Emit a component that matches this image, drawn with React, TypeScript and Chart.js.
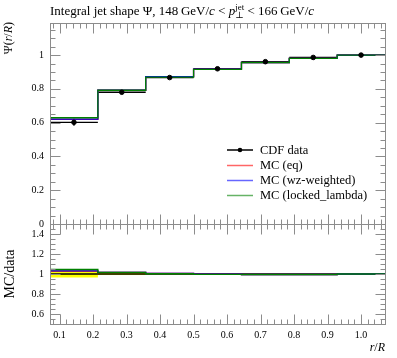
import React, { useEffect, useRef } from "react";
import { Chart, registerables } from "chart.js";
Chart.register(...registerables);

const binEdges = [0.0714, 0.2143, 0.3571, 0.5, 0.6429, 0.7857, 0.9286, 1.0714];
const binCenters = [0.1429, 0.2857, 0.4286, 0.5714, 0.7143, 0.8571, 1.0];
const cdfData = [0.602, 0.78, 0.867, 0.919, 0.961, 0.986, 1.0];
const cdfErr = [0.021, 0.008, 0.004, 0.003, 0.002, 0.001, 0.0];
const mcEq = [0.619, 0.792, 0.872, 0.917, 0.956, 0.981, 1.0];
const mcWz = [0.621, 0.793, 0.873, 0.917, 0.956, 0.981, 1.0];
const mcLocked = [0.629, 0.792, 0.869, 0.916, 0.956, 0.981, 1.0];

const xTicks = [0.1, 0.2, 0.3, 0.4, 0.5, 0.6, 0.7, 0.8, 0.9, 1.0];
const xTickLabels = ["0.1", "0.2", "0.3", "0.4", "0.5", "0.6", "0.7", "0.8", "0.9", "1.0"];
const yMainTicks = [0, 0.2, 0.4, 0.6, 0.8, 1];
const yMainLabels = ["0", "0.2", "0.4", "0.6", "0.8", "1"];
const yRatioTicks = [0.6, 0.8, 1, 1.2, 1.4];
const yRatioLabels = ["0.6", "0.8", "1", "1.2", "1.4"];

const FONT = '"Liberation Serif", "DejaVu Serif", serif';
const FRAME = "#8c8c8c";

const stepPts = (vals: number[]) =>
  binEdges.map((x, i) => ({ x, y: vals[Math.min(i, vals.length - 1)] }));

function px(v: number) {
  return Math.round(v) + 0.5;
}

function drawFrame(
  chart: any,
  yId: string,
  yMajor: number[],
  yLabels: string[],
  yMinor: [number, number, number],
  showXLabels: boolean
) {
  const ctx = chart.ctx as CanvasRenderingContext2D;
  const a = chart.chartArea;
  const xs = chart.scales.x;
  const ys = chart.scales[yId];
  ctx.save();
  ctx.strokeStyle = FRAME;
  ctx.lineWidth = 1;
  const L = px(a.left), R = px(a.right), T = px(a.top), B = px(a.bottom);
  ctx.strokeRect(L, T, R - L, B - T);
  ctx.beginPath();
  for (let k = 4; k <= 53; k++) {
    const v = k * 0.02;
    const major = k % 5 === 0;
    const len = major ? 10 : 5;
    const x = px(xs.getPixelForValue(v));
    if (x <= L || x >= R) continue;
    ctx.moveTo(x, B); ctx.lineTo(x, B - len);
    ctx.moveTo(x, T); ctx.lineTo(x, T + len);
  }
  const [y0, y1, st] = yMinor;
  const n = Math.round((y1 - y0) / st);
  for (let k = 0; k <= n; k++) {
    const v = y0 + k * st;
    const major = yMajor.some((m) => Math.abs(m - v) < 1e-6);
    const len = major ? 10 : 5;
    const y = px(ys.getPixelForValue(v));
    if (y < T || y > B) continue;
    ctx.moveTo(L, y); ctx.lineTo(L + len, y);
    ctx.moveTo(R, y); ctx.lineTo(R - len, y);
  }
  ctx.stroke();
  ctx.fillStyle = "#000";
  ctx.font = `10px ${FONT}`;
  ctx.textAlign = "right";
  ctx.textBaseline = "middle";
  yMajor.forEach((v, i) => {
    ctx.fillText(yLabels[i], a.left - 6, ys.getPixelForValue(v));
  });
  if (showXLabels) {
    ctx.textAlign = "center";
    ctx.textBaseline = "alphabetic";
    xTicks.forEach((v, i) => {
      ctx.fillText(xTickLabels[i], xs.getPixelForValue(v), a.bottom + 14);
    });
  }
  ctx.restore();
}

const mainPlugin = {
  id: "mainDeco",
  beforeDatasetsDraw(chart: any) {
    const ctx = chart.ctx as CanvasRenderingContext2D;
    const xs = chart.scales.x, ys = chart.scales.y;
    ctx.save();
    ctx.strokeStyle = "#000";
    ctx.lineWidth = 1.3;
    ctx.beginPath();
    cdfData.forEach((v, i) => {
      const y = ys.getPixelForValue(v);
      ctx.moveTo(xs.getPixelForValue(binEdges[i]), y);
      ctx.lineTo(xs.getPixelForValue(binEdges[i + 1]), y);
      const xc = xs.getPixelForValue(binCenters[i]);
      ctx.moveTo(xc, ys.getPixelForValue(v - cdfErr[i]));
      ctx.lineTo(xc, ys.getPixelForValue(v + cdfErr[i]));
    });
    ctx.stroke();
    ctx.restore();
  },
  afterDraw(chart: any) {
    drawFrame(chart, "y", yMainTicks, yMainLabels, [0, 1.15, 0.05], false);
    const ctx = chart.ctx as CanvasRenderingContext2D;
    const a = chart.chartArea;
    ctx.save();
    ctx.fillStyle = "#000";
    let x = a.left;
    const base = 15;
    const seg = (t: string, font: string, dy = 0) => {
      ctx.font = font;
      ctx.fillText(t, x, base + dy);
      x += ctx.measureText(t).width;
    };
    ctx.textAlign = "left";
    ctx.textBaseline = "alphabetic";
    const N = `13px ${FONT}`, I = `italic 13px ${FONT}`, S = `9px ${FONT}`;
    seg("Integral jet shape Ψ, 148\u2009GeV/", N);
    seg("c", I);
    seg(" < ", N);
    seg("p", I);
    const xs0 = x;
    seg("⊥", S, 3);
    x = xs0;
    seg("jet", S, -5);
    seg(" < 166\u2009GeV/", N);
    seg("c", I);
    // y axis title
    ctx.save();
    ctx.translate(9, a.top - 1);
    ctx.rotate(-Math.PI / 2);
    ctx.textBaseline = "middle";
    const N2 = `12px ${FONT}`, I2 = `italic 12px ${FONT}`;
    const parts: [string, string][] = [["Ψ(", N2], ["r", I2], ["/", N2], ["R", I2], [")", N2]];
    let total = 0;
    parts.forEach(([t, f]) => { ctx.font = f; total += ctx.measureText(t).width; });
    let cx = -total;
    ctx.textAlign = "left";
    parts.forEach(([t, f]) => { ctx.font = f; ctx.fillText(t, cx, 0); cx += ctx.measureText(t).width; });
    ctx.restore();
    // legend
    const ds = chart.data.datasets;
    const order = [0, 3, 2, 1];
    const ly = [150, 165.5, 180.5, 195.5];
    ctx.font = `12.5px ${FONT}`;
    ctx.textBaseline = "middle";
    order.forEach((di, k) => {
      const d = ds[di];
      ctx.strokeStyle = di === 0 ? "#000" : d.borderColor;
      ctx.globalAlpha = di === 0 ? 1 : 0.6;
      ctx.lineWidth = 1.5;
      ctx.beginPath();
      ctx.moveTo(227, ly[k]);
      ctx.lineTo(253, ly[k]);
      ctx.stroke();
      ctx.globalAlpha = 1;
      if (di === 0) {
        ctx.beginPath();
        ctx.arc(240, ly[k], 2.3, 0, Math.PI * 2);
        ctx.fill();
      }
      ctx.fillText(d.label, 260, ly[k] + 0.5);
    });
    ctx.restore();
  },
};

const ratioPlugin = {
  id: "ratioDeco",
  beforeDatasetsDraw(chart: any) {
    const ctx = chart.ctx as CanvasRenderingContext2D;
    const xs = chart.scales.x, ys = chart.scales.y;
    ctx.save();
    ctx.fillStyle = "#ffff00";
    cdfData.forEach((v, i) => {
      const r = cdfErr[i] / v;
      const x0 = xs.getPixelForValue(binEdges[i]);
      const x1 = xs.getPixelForValue(binEdges[i + 1]);
      const yTop = ys.getPixelForValue(1 + r);
      const yBot = ys.getPixelForValue(1 - r);
      ctx.fillRect(x0, yTop, x1 - x0, yBot - yTop);
    });
    ctx.restore();
  },
  afterDraw(chart: any) {
    drawFrame(chart, "y", yRatioTicks, yRatioLabels, [0.5, 1.5, 0.05], true);
    const ctx = chart.ctx as CanvasRenderingContext2D;
    const a = chart.chartArea;
    ctx.save();
    ctx.fillStyle = "#000";
    const N = `12px ${FONT}`, I = `italic 12px ${FONT}`;
    const parts: [string, string][] = [["r", I], ["/", N], ["R", I]];
    let total = 0;
    parts.forEach(([t, f]) => { ctx.font = f; total += ctx.measureText(t).width; });
    let cx = a.right - total;
    ctx.textAlign = "left";
    ctx.textBaseline = "alphabetic";
    parts.forEach(([t, f]) => { ctx.font = f; ctx.fillText(t, cx, 351); cx += ctx.measureText(t).width; });
    ctx.translate(10, chart.scales.y.getPixelForValue(1));
    ctx.rotate(-Math.PI / 2);
    ctx.font = `14px ${FONT}`;
    ctx.textAlign = "center";
    ctx.textBaseline = "middle";
    ctx.fillText("MC/data", 0, 0);
    ctx.restore();
  },
};

export default function App() {
  const mainRef = useRef<HTMLCanvasElement>(null);
  const ratioRef = useRef<HTMLCanvasElement>(null);
  useEffect(() => {
    const lineDs = (label: string, vals: number[], color: string, order: number) => ({
      label,
      data: stepPts(vals),
      stepped: "before" as const,
      showLine: true,
      borderColor: color,
      borderWidth: 1.3,
      pointRadius: 0,
      fill: false,
      order,
    });
    const common = (pad: any, ymin: number, ymax: number) => ({
      responsive: false,
      animation: false as const,
      devicePixelRatio: 1,
      layout: { padding: pad },
      plugins: { legend: { display: false }, tooltip: { enabled: false }, title: { display: false } },
      scales: {
        x: { type: "linear" as const, min: binEdges[0], max: binEdges[binEdges.length - 1], display: false },
        y: { type: "linear" as const, min: ymin, max: ymax, display: false },
      },
    });
    const main = new Chart(mainRef.current!, {
      type: "line",
      data: {
        datasets: [
          {
            label: "CDF data",
            data: binCenters.map((x, i) => ({ x, y: cdfData[i] })),
            showLine: false,
            pointRadius: 2.3,
            pointBackgroundColor: "#000",
            pointBorderColor: "#000",
            borderColor: "#000",
            order: 0,
          } as any,
          lineDs("MC (locked_lambda)", mcLocked, "#008000", 1),
          lineDs("MC (wz-weighted)", mcWz, "#0000ff", 2),
          lineDs("MC (eq)", mcEq, "#ff0000", 3),
        ],
      },
      options: common({ left: 50, right: 12, top: 23, bottom: 134 }, 0, 1.19) as any,
      plugins: [mainPlugin],
    });
    const ratio = (vals: number[]) => vals.map((v, i) => v / cdfData[i]);
    const ratioChart = new Chart(ratioRef.current!, {
      type: "line",
      data: {
        datasets: [
          lineDs("CDF data", cdfData.map(() => 1), "#000", 5),
          lineDs("MC (eq)", ratio(mcEq), "#ff0000", 3),
          lineDs("MC (wz-weighted)", ratio(mcWz), "#0000ff", 2),
          lineDs("MC (locked_lambda)", ratio(mcLocked), "#008000", 1),
        ],
      },
      options: common({ left: 50, right: 12, top: 224, bottom: 34 }, 0.5, 1.5) as any,
      plugins: [ratioPlugin],
    });
    return () => {
      main.destroy();
      ratioChart.destroy();
    };
  }, []);
  const st: React.CSSProperties = { position: "absolute", left: 0, top: 0, width: 397, height: 358 };
  return (
    <div style={{ position: "absolute", left: 0, top: 0, width: 397, height: 358, background: "#fff" }}>
      <canvas ref={mainRef} width={397} height={358} style={st} />
      <canvas ref={ratioRef} width={397} height={358} style={st} />
    </div>
  );
}
